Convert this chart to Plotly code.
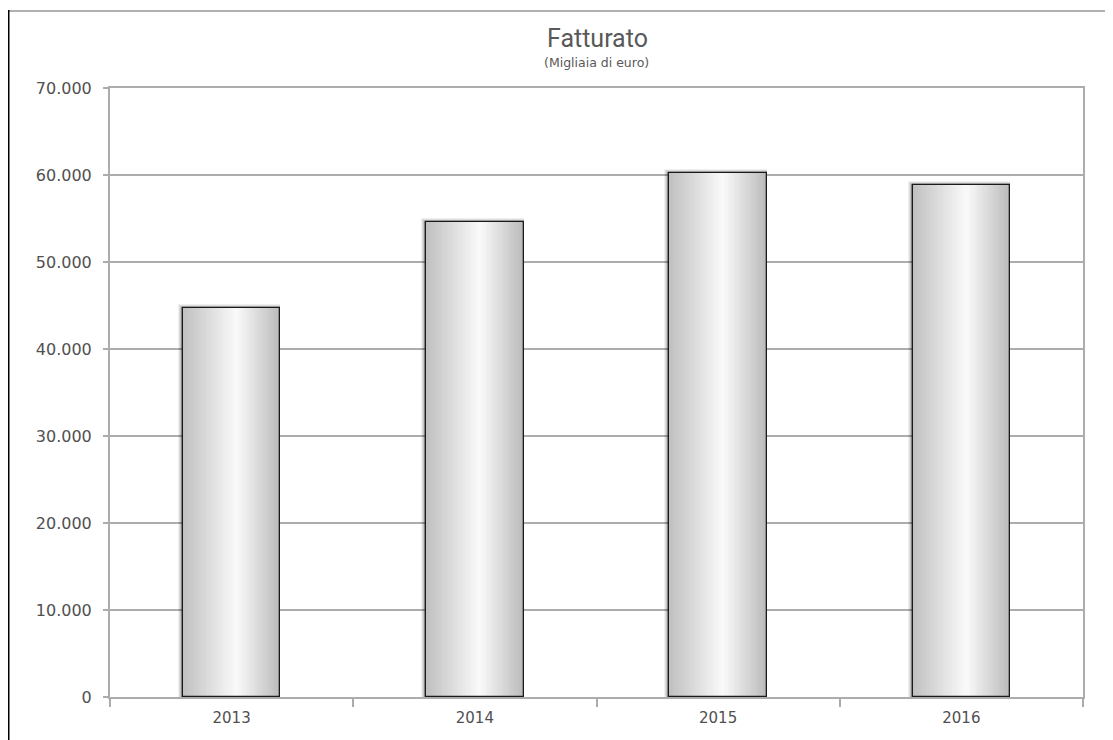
import plotly.graph_objects as go

years = ["2013", "2014", "2015", "2016"]
fatturato = [44700, 54600, 60250, 58850]
y_ticks = [0, 10000, 20000, 30000, 40000, 50000, 60000, 70000]

title_text = "Fatturato"
subtitle_text = "(Migliaia di euro)"

# the page body adds an 8px offset; lay out in figure coordinates
OFF = 8
W, H = 1113, 740
L, T = 110 - OFF, 88 - OFF
R = W - (1083 - OFF)
B = H - (697 - OFF)
pw = W - L - R
ph = H - T - B

bar_w = 0.40
n_slices = 40

def grad(t):
    # horizontal gradient: grey -> near white (55%) -> grey
    if t < 0.55:
        v = 192 + (250 - 192) * (t / 0.55)
    else:
        v = 250 - (250 - 186) * ((t - 0.55) / 0.45)
    v = int(round(v))
    return f"rgb({v},{v},{v})"

fig = go.Figure()

# soft shadow (upper-left)
cat_px = pw / len(years)
for k, a in enumerate([0.06, 0.08, 0.10, 0.12]):
    dx = (5 - k) / cat_px
    dy = (4 - k) / ph * 70000
    fig.add_trace(go.Bar(
        x=years, y=[v + dy for v in fatturato],
        width=bar_w + dx, offset=-bar_w / 2 - dx,
        marker=dict(color=f"rgba(0,0,0,{a})", line=dict(width=0)),
        hoverinfo="skip", showlegend=False))

# gradient slices
sw = bar_w / n_slices
for i in range(n_slices):
    t = (i + 0.5) / n_slices
    fig.add_trace(go.Bar(
        x=years, y=fatturato,
        width=sw * 1.02, offset=-bar_w / 2 + i * sw,
        marker=dict(color=grad(t), line=dict(width=0)),
        hoverinfo="skip", showlegend=False))

# outline
fig.add_trace(go.Bar(
    x=years, y=fatturato, width=bar_w, offset=-bar_w / 2,
    marker=dict(color="rgba(0,0,0,0)", line=dict(color="#1a1a1a", width=1.3)),
    hoverinfo="skip", showlegend=False))

def px_x(p):
    return (p - OFF - L) / pw

def px_y(p):
    return (H - B - (p - OFF)) / ph

tick_font = "DejaVu Sans, sans-serif"
grid_c = "#acacac"

fig.update_layout(
    width=W, height=H,
    margin=dict(l=L, r=R, t=T, b=B),
    barmode="overlay",
    bargap=0,
    separators=",.",
    plot_bgcolor="white",
    paper_bgcolor="white",
    font=dict(family=tick_font, color="#595959"),
    xaxis=dict(
        type="category",
        tickson="boundaries",
        ticks="outside", ticklen=8, tickwidth=2, tickcolor=grid_c,
        showline=True, linecolor=grid_c, linewidth=2, mirror=True,
        showgrid=False,
        ticklabelstandoff=6,
        tickfont=dict(size=15, color="#505050", family=tick_font),
        fixedrange=True,
    ),
    yaxis=dict(
        range=[0, 70000],
        tickvals=y_ticks,
        tickformat=",d",
        ticks="outside", ticklen=5, tickwidth=2, tickcolor=grid_c,
        showline=True, linecolor=grid_c, linewidth=2, mirror=True,
        showgrid=True, gridcolor=grid_c, gridwidth=2,
        zeroline=False,
        ticklabelstandoff=8,
        tickfont=dict(size=16, color="#505050", family=tick_font),
        fixedrange=True,
    ),
    shapes=[
        dict(type="line", xref="paper", yref="paper",
             x0=px_x(7), x1=px_x(W + 5), y0=px_y(11), y1=px_y(11),
             line=dict(color="#b0b0b0", width=2)),
        dict(type="line", xref="paper", yref="paper",
             x0=px_x(8.5), x1=px_x(8.5), y0=px_y(10), y1=px_y(H + 5),
             line=dict(color="#000000", width=2)),
    ],
    annotations=[
        dict(text=title_text, xref="paper", yref="paper",
             x=px_x(597), y=px_y(38), xanchor="center", yanchor="middle",
             showarrow=False,
             font=dict(size=25, color="#595959", family="Roboto, sans-serif")),
        dict(text=subtitle_text, xref="paper", yref="paper",
             x=px_x(596), y=px_y(63), xanchor="center", yanchor="middle",
             showarrow=False,
             font=dict(size=12.5, color="#595959", family=tick_font)),
    ],
)

fig.write_html("out.html")
